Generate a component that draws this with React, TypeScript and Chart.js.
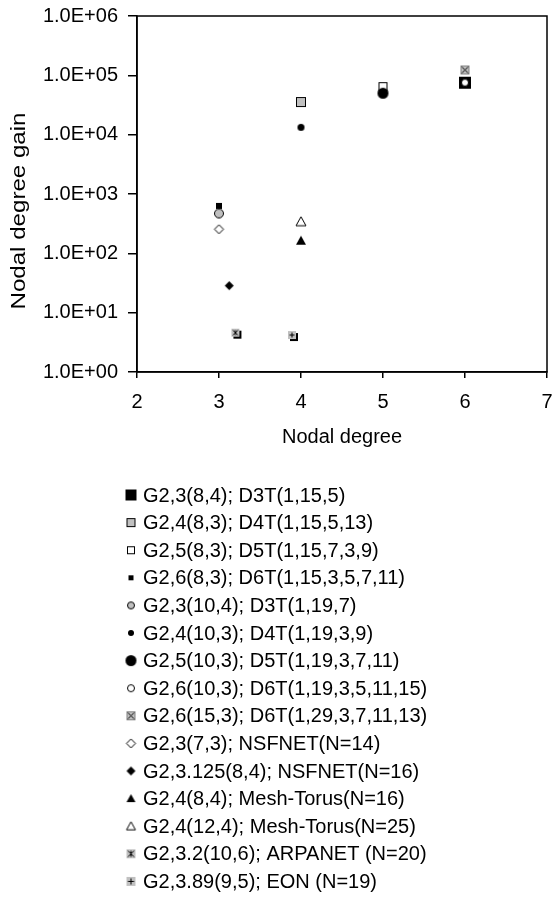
import React, { useEffect, useRef } from 'react';
import { Chart, registerables } from 'chart.js';
Chart.register(...registerables);

// ---- data ----
const seriesLabels = [
  'G2,3(8,4); D3T(1,15,5)',
  'G2,4(8,3); D4T(1,15,5,13)',
  'G2,5(8,3); D5T(1,15,7,3,9)',
  'G2,6(8,3); D6T(1,15,3,5,7,11)',
  'G2,3(10,4); D3T(1,19,7)',
  'G2,4(10,3); D4T(1,19,3,9)',
  'G2,5(10,3); D5T(1,19,3,7,11)',
  'G2,6(10,3); D6T(1,19,3,5,11,15)',
  'G2,6(15,3); D6T(1,29,3,7,11,13)',
  'G2,3(7,3); NSFNET(N=14)',
  'G2,3.125(8,4); NSFNET(N=16)',
  'G2,4(8,4); Mesh-Torus(N=16)',
  'G2,4(12,4); Mesh-Torus(N=25)',
  'G2,3.2(10,6); ARPANET (N=20)',
  'G2,3.89(9,5); EON (N=19)',
];
const seriesX = [[6], [4], [5], [3], [3], [4], [5], [6], [6], [3], [3.125], [4], [4], [3.2], [3.89]];
const seriesY = [[75000], [35500], [64500], [630], [470], [13300], [50000], [75500], [123000], [255], [28.5], [163], [341], [4.6], [4.2]];
const xTicks = [2, 3, 4, 5, 6, 7];
const yTicks = [1, 10, 100, 1000, 10000, 100000, 1000000];
const xTitle = 'Nodal degree';
const yTitle = 'Nodal degree gain';

// ---- marker styles ----
type Shape = 'square' | 'circle' | 'diamond' | 'triangle' | 'squareX' | 'squareStar' | 'squarePlus';
const GRAY = '#c0c0c0';
const markerSpecs: { shape: Shape; fill: string; stroke: string | null; size: number; legendSize: number; shadow: boolean }[] = [
  { shape: 'square', fill: '#000', stroke: null, size: 12, legendSize: 11, shadow: false },
  { shape: 'square', fill: GRAY, stroke: '#000', size: 10, legendSize: 9, shadow: false },
  { shape: 'square', fill: '#fff', stroke: '#000', size: 9, legendSize: 8, shadow: false },
  { shape: 'square', fill: '#000', stroke: null, size: 6, legendSize: 5, shadow: false },
  { shape: 'circle', fill: GRAY, stroke: '#000', size: 10, legendSize: 8, shadow: false },
  { shape: 'circle', fill: '#000', stroke: null, size: 7, legendSize: 6, shadow: false },
  { shape: 'circle', fill: '#000', stroke: null, size: 11, legendSize: 11, shadow: false },
  { shape: 'circle', fill: '#fff', stroke: '#000', size: 8, legendSize: 8, shadow: false },
  { shape: 'squareX', fill: GRAY, stroke: '#808080', size: 9, legendSize: 9, shadow: false },
  { shape: 'diamond', fill: '#fff', stroke: '#000', size: 9, legendSize: 9, shadow: false },
  { shape: 'diamond', fill: '#000', stroke: null, size: 9, legendSize: 9, shadow: false },
  { shape: 'triangle', fill: '#000', stroke: null, size: 10, legendSize: 9, shadow: false },
  { shape: 'triangle', fill: '#fff', stroke: '#000', size: 10, legendSize: 9, shadow: false },
  { shape: 'squareStar', fill: GRAY, stroke: null, size: 8, legendSize: 9, shadow: true },
  { shape: 'squarePlus', fill: GRAY, stroke: null, size: 8, legendSize: 9, shadow: true },
];

function makeMarker(shape: Shape, fill: string, stroke: string | null, size: number, shadow: boolean): HTMLCanvasElement {
  const pad = 4;
  const dim = size + pad * 2;
  const c = document.createElement('canvas');
  c.width = dim;
  c.height = dim;
  const ctx = c.getContext('2d')!;
  const cx = dim / 2;
  const cy = dim / 2;
  const h = size / 2;
  ctx.lineWidth = 1;
  const sq = (ox: number, oy: number, f: string) => {
    ctx.fillStyle = f;
    ctx.fillRect(cx - h + ox, cy - h + oy, size, size);
  };
  if (shape === 'square' || shape === 'squareX' || shape === 'squareStar' || shape === 'squarePlus') {
    if (shadow) sq(2, 2, '#000');
    sq(0, 0, fill);
    if (stroke) {
      ctx.strokeStyle = stroke;
      ctx.strokeRect(cx - h + 0.5, cy - h + 0.5, size - 1, size - 1);
    }
    ctx.strokeStyle = '#000';
    ctx.beginPath();
    const m = h - 1.5;
    if (shape === 'squareX' || shape === 'squareStar') {
      ctx.moveTo(cx - m, cy - m); ctx.lineTo(cx + m, cy + m);
      ctx.moveTo(cx + m, cy - m); ctx.lineTo(cx - m, cy + m);
    }
    if (shape === 'squareStar') {
      ctx.moveTo(cx, cy - m); ctx.lineTo(cx, cy + m);
    }
    if (shape === 'squarePlus') {
      ctx.moveTo(cx, cy - m); ctx.lineTo(cx, cy + m);
      ctx.moveTo(cx - m, cy); ctx.lineTo(cx + m, cy);
    }
    ctx.stroke();
  } else {
    ctx.beginPath();
    if (shape === 'circle') {
      ctx.arc(cx, cy, stroke ? h - 0.5 : h, 0, Math.PI * 2);
    } else if (shape === 'diamond') {
      ctx.moveTo(cx, cy - h); ctx.lineTo(cx + h, cy); ctx.lineTo(cx, cy + h); ctx.lineTo(cx - h, cy); ctx.closePath();
    } else {
      ctx.moveTo(cx, cy - h); ctx.lineTo(cx + h, cy + h * 0.8); ctx.lineTo(cx - h, cy + h * 0.8); ctx.closePath();
    }
    ctx.fillStyle = fill;
    ctx.fill();
    if (stroke) {
      ctx.strokeStyle = stroke;
      ctx.stroke();
    }
  }
  return c;
}

const FONT = 'Liberation Sans, Arial, sans-serif';
const LEGEND_X = 131;
const LEGEND_TEXT_X = 143;
const LEGEND_TOP = 495;
const LEGEND_GAP = 27.6;
const Y_TITLE_X = 19;
const Y_TITLE_CENTER = 211;
const Y_TITLE_LENGTH = 197;

function fmtExp(v: number): string {
  const e = Math.round(Math.log10(v));
  return '1.0E+' + String(e).padStart(2, '0');
}

export default function App() {
  const ref = useRef<HTMLCanvasElement>(null);
  useEffect(() => {
    document.body.style.margin = '0';
    const plotMarkers = markerSpecs.map((m) => makeMarker(m.shape, m.fill, m.stroke, m.size, m.shadow));
    const legendMarkers = markerSpecs.map((m) => makeMarker(m.shape, m.fill, m.stroke, m.legendSize, false));

    const framePlugin = {
      id: 'frameAndLegend',
      afterDraw(chart: any) {
        const { ctx, chartArea: a } = chart;
        ctx.save();
        ctx.strokeStyle = '#000';
        ctx.lineWidth = 1.5;
        ctx.strokeRect(a.left, a.top, a.right - a.left, a.bottom - a.top);
        ctx.font = `20px ${FONT}`;
        ctx.fillStyle = '#000';
        ctx.textBaseline = 'middle';
        ctx.textAlign = 'left';
        chart.data.datasets.forEach((ds: any, i: number) => {
          const y = LEGEND_TOP + i * LEGEND_GAP;
          const mk = legendMarkers[i];
          ctx.drawImage(mk, LEGEND_X - mk.width / 2, y - mk.height / 2);
          ctx.fillText(ds.label, LEGEND_TEXT_X, y + 1);
        });
        // y axis title (stretched like the original)
        ctx.translate(Y_TITLE_X, Y_TITLE_CENTER);
        ctx.rotate(-Math.PI / 2);
        const w = ctx.measureText(yTitle).width;
        ctx.scale(Y_TITLE_LENGTH / w, 1);
        ctx.textAlign = 'center';
        ctx.fillText(yTitle, 0, 0);
        ctx.restore();
      },
    };

    const chart = new Chart(ref.current!, {
      type: 'scatter',
      data: {
        datasets: seriesLabels.map((label, i) => ({
          label,
          data: seriesX[i].map((x, j) => ({ x, y: seriesY[i][j] })),
          pointStyle: plotMarkers[i] as any,
          pointRadius: 5,
          showLine: false,
          order: -i,
        })),
      },
      options: {
        responsive: false,
        animation: false,
        devicePixelRatio: 1,
        events: [],
        layout: { padding: { left: 0, top: 16, right: 5, bottom: 911 - 372 - 77 } },
        plugins: { legend: { display: false }, tooltip: { enabled: false } },
        scales: {
          x: {
            type: 'linear',
            min: 2,
            max: 7,
            afterBuildTicks: (s: any) => { s.ticks = xTicks.map((v) => ({ value: v })); },
            afterFit: (s: any) => { s.height = 77; s.paddingLeft = 0; s.paddingRight = 0; },
            ticks: { color: '#000', font: { family: FONT, size: 20 }, padding: 12, autoSkip: false, maxRotation: 0 },
            grid: { drawOnChartArea: false, drawTicks: true, tickLength: 6, color: '#000', lineWidth: 1.5 },
            border: { display: true, color: '#000', width: 1.5 },
            title: { display: true, text: xTitle, color: '#000', font: { family: FONT, size: 20 }, padding: { top: 0, bottom: 0 } },
          },
          y: {
            type: 'logarithmic',
            min: 1,
            max: 1000000,
            afterBuildTicks: (s: any) => { s.ticks = yTicks.map((v) => ({ value: v })); },
            afterFit: (s: any) => { s.width = 137; s.paddingTop = 0; s.paddingBottom = 0; },
            ticks: { color: '#000', font: { family: FONT, size: 20 }, padding: 10, autoSkip: false, callback: (v: any) => fmtExp(Number(v)) },
            grid: { drawOnChartArea: false, drawTicks: true, tickLength: 9, color: '#000', lineWidth: 1.5 },
            border: { display: true, color: '#000', width: 1.5 },
            title: { display: false, text: yTitle },
          },
        },
      },
      plugins: [framePlugin],
    });
    return () => chart.destroy();
  }, []);
  return <canvas ref={ref} width={553} height={911} style={{ display: 'block' }} />;
}
